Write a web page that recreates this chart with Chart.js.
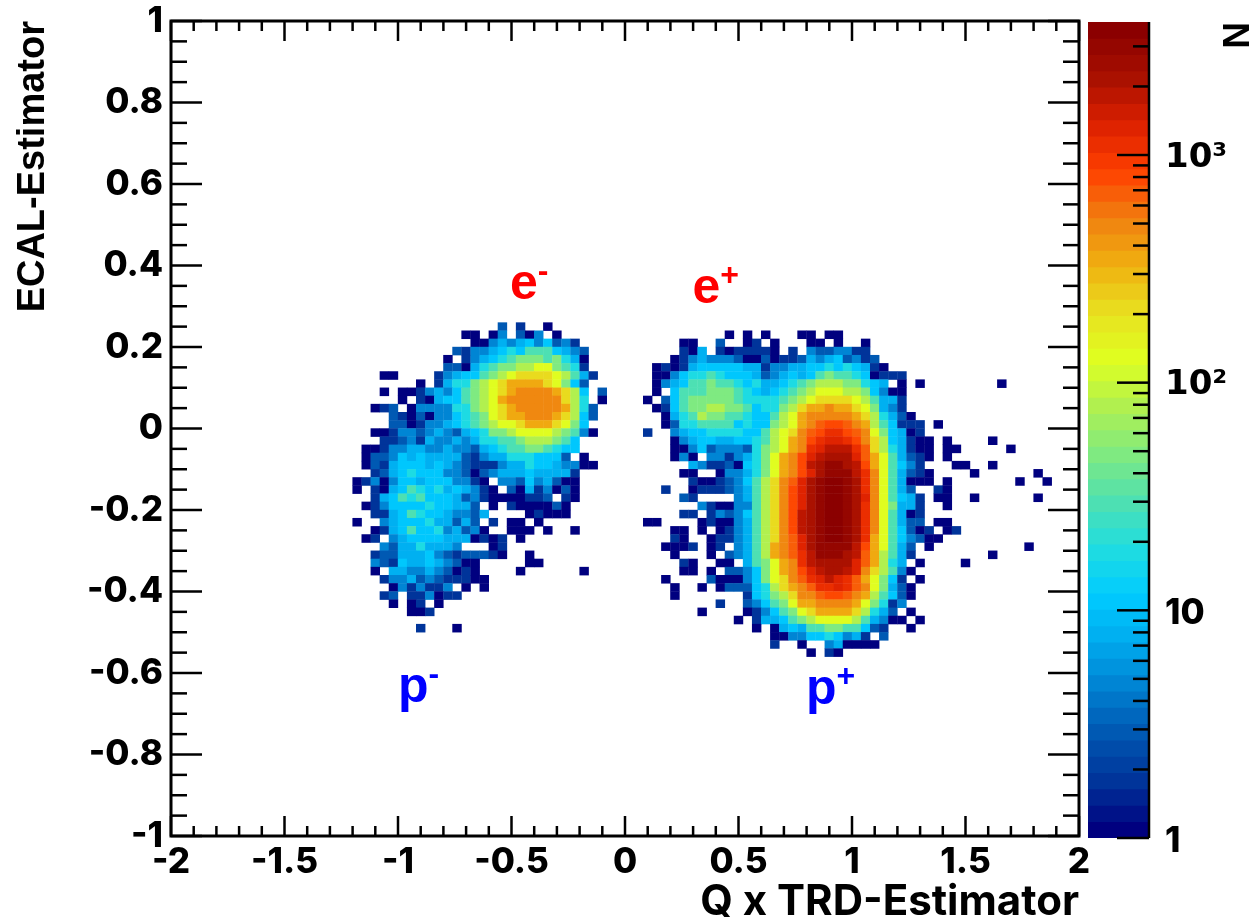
<!DOCTYPE html>
<html><head><meta charset="utf-8">
<style>
html,body{margin:0;padding:0;background:#fff;overflow:hidden}
#wrap{position:relative;width:1250px;height:917px}
canvas{position:absolute;top:0}
#main{left:0}#pal{left:1080px}
</style>
<script src="https://cdn.jsdelivr.net/npm/chart.js@4/dist/chart.umd.min.js"></script>
</head><body><div id="wrap"><canvas id="main" width="1250" height="917"></canvas><canvas id="pal" width="170" height="917"></canvas></div>
<script>
// Histogram: each char is a colour level (see levelCounts); '.' = empty bin.
const xBinWidth = 0.04, yBinHeight = 0.02, firstRow = 37;
const leftFirstCol = 20, rightFirstCol = 52;
const levelKeys = "0123456789abcdefghDEFG";
const levelCounts = [1,1.6,2.6,4.3,7,11,18,30,48,79,128,208,338,549,890,1450,2350,3800,700,1140,1840,2990];
const paletteStops = ["#00007f","#003399","#0055b0","#0080d0","#00aaee","#00ccff","#20dde0","#50e0b0","#80ea80","#b0f050","#e0ff20","#e8e020","#f0b010","#f08010","#ff4000","#dc2000","#a81000","#8b0000"];
const leftRows = [
"................2.1..0",
"............00.03.203.0",
".............003434535231",
"...........213345657775432",
"..........0.13456788878640",
"..........2204678899aa8761",
"...00....13455789abbbba9741",
".......0.146689abccccba852",
"...0.0013435789abcddddcb95.2",
".....0.10455789acddddddb96.0",
"..012.033336689abcdddddc962",
"....21020335678abccdddcb952",
"....220133456789aabcccba85",
"..0013323432456889aaaa98730",
"...1123143343466778999875",
".001334433433245677887655",
".02235454444213446665552.0",
".02145554543211134465543300",
"..12456555332023444544441",
"013035545553310.332534200",
"0.10457656454310.20413020",
"..14576755542310000112.10",
".0135555655442.0.1000020",
"..1145765543324....01000",
"0..34555644242.1.00.0",
"..0145755634230..000.0..0",
".01.3455554440101.0",
"...324464443...01",
"..122444532122210..0",
"..321544543200.....00",
"..0.4433432010....0......0",
"...133423211100",
"....0313113.0.0",
"...12.113011",
"....0.01.0",
"......001",
"",
".......1...0"
];
const rightRows = [
"",
".........0.0.0...00.00",
"....00..2..01.0...00.0..0",
"....104.1011110.1.3223311",
"...01343332002011243452312",
".01014555554413344556565410",
".0035667655542345457877650111",
".03457787765644567899988654.0.0........0",
".0.5777888765456789aaa9985300",
"0.2578888876666789abbbba97441",
".0157889988756689bccdccba8431",
"..04679887765579acdddddcb96420",
"..02667777565589acdDeeDdc975111.0",
"1..345566665579abdDeEEeDda85401",
"...034554455679acdeEffEedb954100.0....0",
"...003523332689acdEfFFFEDb964100.00.....0",
"...030.3313468acdefFgggfDca74210.0",
".....431120568acdeFgGGgFeca7531...00..0",
"....00..033468acdefgGGGFEda74210....0......0",
".....100123579bdDfgGhhGgEda74000.0.......0..0",
"..1..011123479bdefgGhhGgEda742..10",
"....21....3479bdefgGhhGgfda7541.00..0......0",
"......31003379bdefgGhhGgEda8441..0",
"....11.1323579bdeFgGhhGgEda7401",
"00....01003479bdeFgGhhGgEda7422.00",
"...00.0.013479bdeFgGhhGgEda75201.01",
"...10..0113479bdDfgGhhGgEca753200",
"..0001.01.3479cdDfgGGGGFeca742.0..........0",
"...0...0.23479cdDEFGGGgFDc9741........0",
"....10..00.478acdEFggggfDc964.0....0",
"....00.0.22358acdefFggFfdb9730",
"..0....2000358abdDEfFfEDca851.0",
"...0..0.0222569bcdDEEfEDda8420",
"...0.......15689bddDeeDdc97520",
"........1..23578accddddca8613",
"......0....013578abccccb9642.0",
"..........0.1445789aaaa974300.0",
"............0.0454778877521..0",
"..............00335565341.2",
"..............1..0..340000",
"..................0.10"
];
const xTicks = [-2,-1.5,-1,-0.5,0,0.5,1,1.5,2];
const yTicks = [-1,-0.8,-0.6,-0.4,-0.2,0,0.2,0.4,0.6,0.8,1];
const zTicks = [1,10,100,1000];
const zTickLabels = ["1","10","10²","10³"];
const zMinorTicks = [2,3,4,5,6,7,8,9,20,30,40,50,60,70,80,90,200,300,400,500,600,700,800,900,2000,3000];
const zMax = 3838, paletteBands = 50;
const xTitle = "Q x TRD-Estimator", yTitle = "ECAL-Estimator", zTitle = "N";
const noteBase = ["e","e","p","p"];
const noteSup = ["-","+","-","+"];
const noteX = [-0.507,0.297,-1.0,0.797];
const noteY = [0.318,0.308,-0.672,-0.677];
const noteColor = ["#ff0000","#ff0000","#0000ff","#0000ff"];

const hex = h => [1,3,5].map(i => parseInt(h.substr(i,2),16));
function bandColor(b){
  const t = b/(paletteBands-1)*(paletteStops.length-1), i = Math.min(Math.floor(t),paletteStops.length-2), f = t-i;
  const a = hex(paletteStops[i]), c = hex(paletteStops[i+1]);
  return "rgb("+a.map((v,k)=>Math.round(v+(c[k]-v)*f)).join(",")+")";
}
function countColor(n){
  const b = Math.min(paletteBands-1,Math.round(Math.log(n)/Math.log(zMax)*(paletteBands-1)));
  return bandColor(b);
}
function cells(rows,firstCol){
  const out=[];
  rows.forEach((s,r)=>{
    const j=firstRow+r;
    for(let c=0;c<s.length;c++){
      if(s[c]==='.')continue;
      const k=firstCol+c;
      const top=1-yBinHeight*j;
      out.push({x:-2+xBinWidth*(k+0.5),y:[top-yBinHeight-0.0005,top+0.0005],n:levelCounts[levelKeys.indexOf(s[c])]});
    }
  });
  return out;
}
const FONT="Inter, 'Liberation Sans', sans-serif", HELV="'Liberation Sans', Arial, sans-serif";
const noPad = s => {s.paddingTop=0;s.paddingBottom=0;s.paddingLeft=0;s.paddingRight=0;};
const frameTicks = {
  id:'frameTicks',
  afterDatasetsDraw(chart){
    const {ctx,chartArea:a,scales:{x,y}}=chart;
    ctx.save();ctx.strokeStyle='#000';ctx.lineWidth=2.5;
    const line=(x1,y1,x2,y2)=>{ctx.beginPath();ctx.moveTo(x1,y1);ctx.lineTo(x2,y2);ctx.stroke();};
    xTicks.forEach((v,i)=>{for(let m=0;m<5;m++){
      if(i===xTicks.length-1&&m>0)break;
      const p=x.getPixelForValue(v+m*0.1),l=m===0?20:10;
      line(p,a.bottom,p,a.bottom-l);line(p,a.top,p,a.top+l);
    }});
    yTicks.forEach((v,i)=>{for(let m=0;m<4;m++){
      if(i===yTicks.length-1&&m>0)break;
      const p=y.getPixelForValue(v+m*0.05),l=m===0?31:16;
      line(a.left,p,a.left+l,p);line(a.right,p,a.right-l,p);
    }});
    ctx.lineWidth=3;ctx.strokeRect(a.left,a.top,a.right-a.left,a.bottom-a.top);
    noteBase.forEach((t,i)=>{
      const px=x.getPixelForValue(noteX[i]),py=y.getPixelForValue(noteY[i]);
      ctx.fillStyle=noteColor[i];ctx.textAlign='left';ctx.textBaseline='alphabetic';
      ctx.font="bold 50px "+HELV;ctx.fillText(t,px,py);
      const w=ctx.measureText(t).width;
      ctx.font="bold 32px "+HELV;ctx.fillText(noteSup[i],px+w,py-18);
    });
    ctx.restore();
  }
};
new Chart(document.getElementById('main'),{
  type:'bar',
  data:{datasets:[{
    label:'Counts',
    data:cells(leftRows,leftFirstCol).concat(cells(rightRows,rightFirstCol)),
    backgroundColor:c=>c.raw?countColor(c.raw.n):'#000',
    borderWidth:0,barPercentage:1.04,categoryPercentage:1,grouped:false
  }]},
  options:{
    responsive:false,animation:false,
    layout:{padding:{left:0,right:171,top:21,bottom:0}},
    plugins:{legend:{display:false},tooltip:{enabled:false}},
    scales:{
      x:{type:'linear',min:-2,max:2,offset:false,position:'bottom',
        grid:{display:false,offset:false,drawTicks:false},border:{display:false},
        afterBuildTicks:s=>{s.ticks=xTicks.map(v=>({value:v}));},
        afterFit:s=>{s.height=81;noPad(s);},
        ticks:{autoSkip:false,maxRotation:0,padding:5,color:'#000',font:{family:FONT,weight:800,size:35},callback:v=>String(v)},
        title:{display:true,text:xTitle,align:'end',color:'#000',font:{family:FONT,weight:'bold',size:42},padding:{top:0,bottom:-11}}
      },
      y:{type:'linear',min:-1,max:1,position:'left',
        grid:{display:false,drawTicks:false},border:{display:false},
        afterBuildTicks:s=>{s.ticks=yTicks.map(v=>({value:v}));},
        afterFit:s=>{s.width=171;noPad(s);},
        ticks:{autoSkip:false,padding:8,color:'#000',font:{family:FONT,weight:800,size:35},callback:v=>String(v)},
        title:{display:true,text:yTitle,align:'end',color:'#000',font:{family:HELV,weight:'bold',size:38},padding:{top:11,bottom:0}}
      }
    }
  },
  plugins:[frameTicks]
});
const bandEdges=[];
for(let b=0;b<=paletteBands;b++)bandEdges.push(Math.pow(zMax,b/paletteBands));
const palTicks={
  id:'palTicks',
  afterDatasetsDraw(chart){
    const {ctx,chartArea:a,scales:{y}}=chart;
    ctx.save();ctx.strokeStyle='#000';ctx.lineWidth=2.5;
    const tick=(v,l)=>{const p=y.getPixelForValue(v);ctx.beginPath();ctx.moveTo(a.right,p);ctx.lineTo(a.right-l,p);ctx.stroke();};
    zTicks.forEach(v=>tick(v,32));zMinorTicks.forEach(v=>tick(v,16));
    ctx.beginPath();ctx.moveTo(a.right,a.top);ctx.lineTo(a.right,a.bottom);ctx.stroke();
    ctx.restore();
  }
};
new Chart(document.getElementById('pal'),{
  type:'bar',
  data:{datasets:[{
    label:zTitle,
    data:bandEdges.slice(0,-1).map((e,b)=>({x:0.5,y:[e,bandEdges[b+1]*1.002]})),
    backgroundColor:bandEdges.slice(0,-1).map((e,b)=>bandColor(b)),
    borderWidth:0,barThickness:61,grouped:false
  }]},
  options:{
    responsive:false,animation:false,
    layout:{padding:{left:8,right:0,top:22,bottom:79}},
    plugins:{legend:{display:false},tooltip:{enabled:false}},
    scales:{
      x:{type:'linear',min:0,max:1,display:false,offset:false,grid:{display:false,offset:false}},
      y:{type:'logarithmic',min:1,max:zMax,position:'right',
        grid:{display:false,drawTicks:false},border:{display:false},
        afterBuildTicks:s=>{s.ticks=zTicks.map(v=>({value:v}));},
        afterFit:s=>{s.width=101;noPad(s);},
        ticks:{autoSkip:false,padding:16,labelOffset:3,color:'#000',
          font:c=>c.index>=2?{family:"'DejaVu Sans'",weight:'bold',size:34}:{family:FONT,weight:800,size:35},
          callback:v=>zTickLabels[zTicks.indexOf(v)]},
        title:{display:true,text:zTitle,align:'end',color:'#000',font:{family:HELV,weight:'bold',size:37},padding:{top:-5,bottom:0}}
      }
    }
  },
  plugins:[palTicks]
});
</script></body></html>
